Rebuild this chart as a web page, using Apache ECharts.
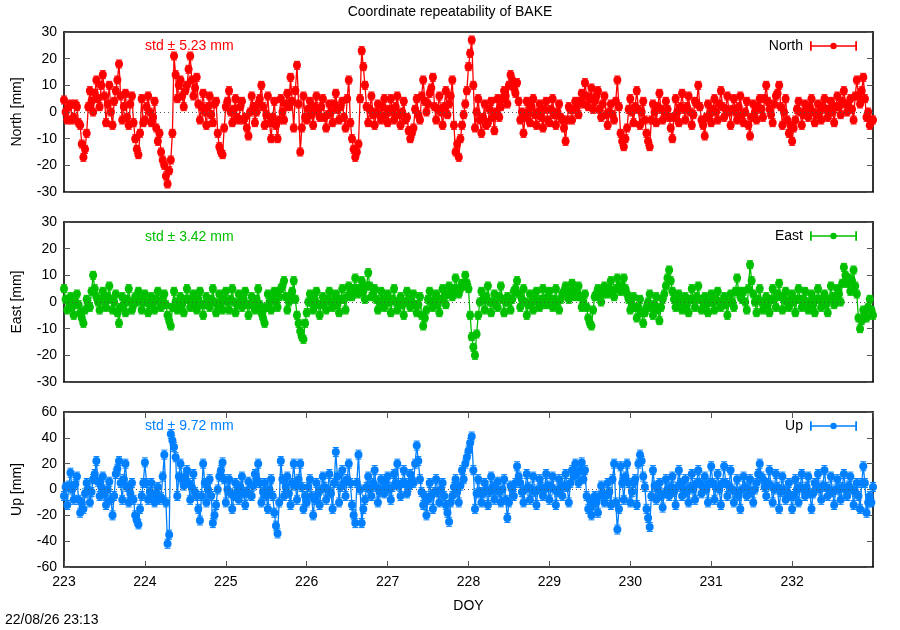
<!DOCTYPE html>
<html>
<head>
<meta charset="utf-8">
<script src="https://cdn.jsdelivr.net/npm/echarts@6/dist/echarts.min.js"></script>
<style>
html,body{margin:0;padding:0;background:#fff;}
#chart{width:900px;height:630px;}
</style>
</head>
<body>
<div id="chart"></div>
<script>
// ---- data ----
const EPOCH_START = 223;   // DOY of first epoch
const EPOCH_STEP = 0.02;   // days between epochs
const xTicks = [223, 224, 225, 226, 227, 228, 229, 230, 231, 232];
const nTicks = [-30, -20, -10, 0, 10, 20, 30];
const uTicks = [-60, -40, -20, 0, 20, 40, 60];
const stdLabels = ['std \u00b1 5.23 mm', 'std \u00b1 3.42 mm', 'std \u00b1 9.72 mm'];
const seriesNames = ['North', 'East', 'Up'];
const sigma = [1.5, 1.5, 3.5];   // error-bar half length (mm) per component

const north = [
  4.5,0,-3,2,3,-3,-2,3,2,-4,-5,-12,-17,-14,-8,2,8,4,0,7,12,5,2,10,14,6,-4,3,10,0,-5,4,8,12,18,6,-3,2,7,-2,-5,3,6,-4,-10,-14,-16,-8,5,-4,
  -3,2,6,0,-4,-2,4,-6,-11,-8,-15,-18,-20,-24,-27,-22,-18,-8,21,14,5,10,12,6,2,8,10,16,21,12,6,9,13,3,-3,2,7,0,-5,2,6,-1,-4,3,4,-8,-13,-15,-16,-6,
  2,4,8,0,-4,1,5,-2,-3,2,4,-3,-2,-6,-9,0,6,2,-4,0,3,5,10,2,-5,-1,6,-4,-10,-2,4,-5,-10,-3,5,0,-3,3,7,2,13,4,-6,8,17.5,3,-15,-6,6,-2,
  -3,1,4,-1,-5,2,6,0,-2,2,5,-2,-6,-1,3,0,-4,3,7,1,-3,2,4,-2,-6,5,12,-4,-10,-14,-17,-15,-12,5,23,17,10,2,-4,1,6,-1,-5,0,3,-1,-3,2,5,-1,
  -4,1,5,0,-3,2,6,-1,-5,0,4,-3,-2,-7,-10,-8,-6,1,5,-1,-3,6,12,4,0,3,7,9,13,2,-3,1,6,0,-5,2,8,-1,3,6,12,-5,-15,-12,-17,-10,-5,-1,3,8,
  17,22,27,10,-6,0,5,-3,-8,-2,3,-5,-4,1,4,-2,-7,0,5,-2,2,5,8,6,3,10,14,12,9,7,11,4,-3,0,-8,-2,4,0,-4,2,5,-1,-5,0,3,-2,-6,1,4,-3,
  -4,1,5,-1,-5,0,3,-2,-3,-6,-11,-3,2,1,-3,1,4,2,-1,4,7,3,11,6,2,5,9,1,4,6,8,1,-2,3,6,-1,-5,0,3,-1,-3,4,12,2,-8,-11,-13,-10,-6,1,
  5,0,-4,2,8,1,-5,0,4,-3,-8,-11,-13,-3,3,0,-4,2,7,1,-3,0,4,1,-2,-6,-10,-2,5,0,-4,2,7,1,-3,2,6,0,-5,-1,4,3,10,2,-3,-5,-9,-2,3,-1,
  -4,1,5,0,-3,3,8,2,-2,1,6,0,-5,1,5,0,-3,2,6,-1,-4,0,4,-5,-9,-2,3,0,-3,2,5,1,-2,5,10,4,1,-1,-4,3,6,7,10,2,-5,0,5,-3,-8,-5,
  -11,-6,-3,1,4,0,-5,-1,3,1,-2,2,5,0,-4,-1,3,0,-3,2,5,1,-2,1,4,0,-4,2,6,2,-1,4,8,3,0,2,5,1,-3,6,12,6,3,8,13,5,-2,0,-5,-3,
  -3
];
const east = [
  5,1,-3,0,2,-2,-5,0,3,-1,-4,-6,-8,-3,1,-1,-2,4,10,5,2,0,-3,1,4,0,-2,2,6,1,-3,0,3,-4,-8,-2,2,-1,-4,1,5,0,-3,-1,2,0,4,1,-3,0,
  3,0,-4,-1,2,0,-3,1,4,0,-2,1,3,-1,-5,-7,-9,-2,4,0,-3,-1,2,-1,-4,1,5,1,-2,0,3,-1,-3,1,4,-1,-5,-1,2,0,-2,1,5,0,-4,-1,3,0,-3,1,
  4,0,-3,1,5,0,-4,-1,3,0,-2,1,4,-1,-5,-1,2,0,-3,1,5,-1,-4,-6,-8,-2,3,0,-3,1,4,0,-2,2,5,6,8,2,-3,0,2,4,8,1,-5,-8,-11,-13,-14,-8,
  -4,0,3,0,-3,1,4,-1,-5,-1,2,0,-3,1,4,0,-2,1,3,-1,-4,1,5,1,-3,2,6,4,2,5,9,5,3,5,8,4,1,6,11,6,2,3,5,1,-3,0,4,1,-2,0,
  3,0,-4,1,5,0,-3,0,2,-1,-5,0,4,1,-2,0,3,-1,-4,-1,2,-5,-9,-6,-3,1,4,0,-2,1,3,-1,-4,1,5,2,-1,3,6,3,2,5,9,5,3,5,7,6,10,7,
  5,-5,-13,-17,-20,-12,-5,0,4,1,-3,2,6,0,-4,0,3,-1,-2,2,6,1,-4,0,2,0,-3,1,4,5,8,3,-2,1,5,0,-5,-1,3,0,-3,1,4,0,-2,1,5,1,-1,2,
  4,1,-2,1,5,0,-3,1,3,4,6,3,1,4,7,4,2,4,6,2,-2,0,3,-2,-6,-8,-9,-3,2,3,5,2,0,3,6,4,3,5,8,4,2,5,9,6,4,6,9,5,3,1,
  -3,-1,2,-2,-6,-2,1,-4,-8,-4,-2,0,3,-2,-5,-1,2,-3,-7,-2,1,3,6,9,12,8,4,1,-2,0,3,0,-3,0,2,-1,-4,1,5,1,-2,2,6,1,-3,0,2,-1,-4,0,
  3,0,-3,1,4,0,-2,0,2,-1,-5,0,3,0,-2,4,9,4,2,1,4,0,-3,5,14,8,3,0,-4,1,5,0,-3,0,2,-1,-4,1,5,1,-2,3,7,2,-3,1,4,0,-2,1,
  3,0,-4,1,5,1,-2,1,4,0,-3,0,3,-1,-4,1,5,1,-2,0,3,-1,-4,1,6,2,-1,2,5,3,0,7,13,10,7,9,4,8,12,6,3,-6,-10,-7,-3,-5,-6,-2,1,-3,
  -5
];
const up = [
  -5,2,-12,3,13,0,-8,4,10,-8,-18,-10,-15,-3,5,0,-10,-2,8,12,22,6,-5,2,10,-4,-12,0,6,-8,-20,-5,12,16,22,5,-8,8,20,2,-10,-3,5,-8,-20,-24,-27,-15,-5,5,
  21,5,-8,-2,5,-4,-10,-3,2,-8,-6,10,27,-10,-42,-35,43,38,33,25,-5,10,20,8,3,10,15,5,-8,2,12,-2,-5,-15,-24,-5,20,5,-10,0,8,-5,-26,-20,-12,0,10,15,21,8,
  -10,0,8,-3,-15,-5,5,-2,-8,2,10,-3,-12,-2,6,-4,-5,3,12,8,20,5,-10,-2,5,-5,-15,0,8,-5,-18,-28,-34,-10,22,8,-5,2,10,-3,-12,5,20,3,-8,8,20,2,-15,-5,
  -10,2,8,-5,-20,-8,5,-3,-12,0,10,2,-8,0,12,-3,-15,5,29,10,-10,2,15,5,-5,8,20,5,-12,-20,-26,5,27,0,-26,-15,-8,2,10,0,-5,5,15,2,-10,-2,8,0,-3,5,
  10,0,-8,2,12,5,20,3,-5,5,15,5,-3,2,12,8,5,20,34,22,8,-2,-12,-5,-20,-8,5,-5,-15,-2,8,-2,-10,0,5,-5,-12,-18,-25,-10,-5,2,8,-2,-10,3,15,8,20,25,
  30,36,41,15,-15,-3,8,-2,-10,-3,5,0,-12,-2,10,2,-8,0,6,-2,-10,0,8,-8,-22,-10,3,0,-5,5,18,10,5,-2,-10,0,12,2,-8,0,10,-2,-12,0,8,2,-5,0,12,3,
  -8,2,10,0,-12,-2,8,2,-5,3,12,2,-10,5,15,10,20,12,5,15,21,8,15,-5,-15,-8,-20,-12,-5,-10,-18,-5,3,-3,-10,-5,5,-2,-12,8,20,-10,-31,-15,18,5,-8,10,20,5,
  -10,-2,5,8,-12,20,27,22,10,2,-15,-22,-29,-5,15,3,-8,0,5,-5,-14,-3,8,0,-5,2,10,-2,-12,2,15,5,-5,0,8,-2,-10,2,12,0,-8,5,15,5,-3,2,10,0,-10,5,
  18,5,-8,2,12,0,-12,5,18,5,-5,3,15,0,-10,-2,8,-5,-15,0,10,2,-5,0,8,-2,-10,0,5,12,20,10,8,2,-5,5,15,3,-10,0,12,2,-15,-2,10,0,-8,-2,5,-5,
  -15,-5,8,0,-10,2,12,0,-5,2,10,-3,-15,-3,5,3,12,0,-8,3,15,2,-5,0,10,-2,-12,0,8,0,-8,2,12,0,-5,3,10,0,-12,-2,5,-5,-15,5,18,5,-18,-10,-5,-10,
  2
];

// ---- build ----
function pairs(vals) {
  return vals.map((v, i) => [EPOCH_START + i * EPOCH_STEP, v]);
}
function triples(vals, e) {
  return vals.map((v, i) => [EPOCH_START + i * EPOCH_STEP, v, e]);
}
const colors = ['#ff0000', '#00c000', '#0080ff'];
const FONT = 'Liberation Sans, Arial, sans-serif';
const grids = [
  {left: 64, right: 27, top: 32, height: 160},
  {left: 64, right: 27, top: 222, height: 160},
  {left: 64, right: 27, top: 412, height: 155}
];
const yRanges = [
  {min: nTicks[0], max: nTicks[nTicks.length - 1], interval: nTicks[1] - nTicks[0]},
  {min: nTicks[0], max: nTicks[nTicks.length - 1], interval: nTicks[1] - nTicks[0]},
  {min: uTicks[0], max: uTicks[uTicks.length - 1], interval: uTicks[1] - uTicks[0]}
];
const frameLine = {show: true, onZero: false, lineStyle: {color: '#000', width: 1.6}};
const xMin = xTicks[0], xMax = 233;

const xAxis = [], yAxis = [];
for (let g = 0; g < 3; g++) {
  const isBottom = g === 2;
  xAxis.push({
    type: 'value', gridIndex: g, position: 'bottom', min: xMin, max: xMax, interval: 1,
    axisLine: frameLine,
    axisTick: {show: isBottom, inside: true, length: 6, lineStyle: {color: '#555', width: 1}},
    axisLabel: {show: isBottom, color: '#000', fontSize: 14, fontFamily: FONT, margin: 8, showMaxLabel: false,
      formatter: v => String(v)},
    splitLine: {show: false},
    name: isBottom ? 'DOY' : '', nameLocation: 'middle', nameGap: 32,
    nameTextStyle: {color: '#000', fontSize: 14, fontFamily: FONT}
  });
  xAxis.push({
    type: 'value', gridIndex: g, position: 'top', min: xMin, max: xMax, interval: 1,
    axisLine: frameLine,
    axisTick: {show: isBottom, inside: true, length: 6, lineStyle: {color: '#555', width: 1}},
    axisLabel: {show: false}, splitLine: {show: false}
  });
  yAxis.push({
    type: 'value', gridIndex: g, position: 'left', min: yRanges[g].min, max: yRanges[g].max, interval: yRanges[g].interval,
    axisLine: frameLine,
    axisTick: {show: true, inside: true, length: 6, lineStyle: {color: '#555', width: 1}},
    axisLabel: {color: '#000', fontSize: 14, fontFamily: FONT, margin: 7},
    splitLine: {show: false},
    name: seriesNames[g] + ' [mm]', nameLocation: 'middle', nameRotate: 90, nameGap: 40,
    nameTextStyle: {color: '#000', fontSize: 14, fontFamily: FONT}
  });
  yAxis.push({
    type: 'value', gridIndex: g, position: 'right', min: yRanges[g].min, max: yRanges[g].max, interval: yRanges[g].interval,
    axisLine: frameLine,
    axisTick: {show: true, inside: true, length: 6, lineStyle: {color: '#555', width: 1}},
    axisLabel: {show: false}, splitLine: {show: false}
  });
}

const dataSets = [north, east, up];
const series = [];
const legendIcon = 'path://M0,1 L1.5,1 L1.5,9 L0,9 Z M38.5,1 L40,1 L40,9 L38.5,9 Z M1.5,4.3 L38.5,4.3 L38.5,5.7 L1.5,5.7 Z M17.3,5 A2.7,2.7 0 1 1 22.7,5 A2.7,2.7 0 1 1 17.3,5 Z';
const legends = [];
function errorBarRenderer(color) {
  return function (params, api) {
    const x = api.value(0), y = api.value(1), e = api.value(2);
    const hi = api.coord([x, y + e]);
    const lo = api.coord([x, y - e]);
    const w = 3;
    const st = {stroke: color, lineWidth: 1};
    return {
      type: 'group',
      children: [
        {type: 'line', shape: {x1: hi[0], y1: hi[1], x2: lo[0], y2: lo[1]}, style: st},
        {type: 'line', shape: {x1: hi[0] - w, y1: hi[1], x2: hi[0] + w, y2: hi[1]}, style: st},
        {type: 'line', shape: {x1: lo[0] - w, y1: lo[1], x2: lo[0] + w, y2: lo[1]}, style: st}
      ]
    };
  };
}
for (let g = 0; g < 3; g++) {
  series.push({
    name: seriesNames[g] + '0', type: 'line', xAxisIndex: 2 * g, yAxisIndex: 2 * g,
    data: [], z: 1, silent: true,
    markLine: {silent: true, symbol: 'none', label: {show: false}, animation: false,
      lineStyle: {color: '#555', type: [1, 3], width: 1}, data: [{yAxis: 0}]}
  });
  series.push({
    name: seriesNames[g] + 'err', type: 'custom', xAxisIndex: 2 * g, yAxisIndex: 2 * g,
    data: triples(dataSets[g], sigma[g]), z: 2, silent: true, animation: false,
    renderItem: errorBarRenderer(colors[g])
  });
  series.push({
    name: seriesNames[g], type: 'line', xAxisIndex: 2 * g, yAxisIndex: 2 * g,
    data: pairs(dataSets[g]), z: 3,
    showSymbol: true, showAllSymbol: true, symbol: 'circle', symbolSize: 8,
    itemStyle: {color: colors[g]},
    lineStyle: {color: colors[g], width: 1.3},
    animation: false
  });
  legends.push({
    data: [{name: seriesNames[g], icon: legendIcon}],
    right: 43, top: [39, 229, 419][g], padding: 0, align: 'right',
    itemWidth: 47, itemHeight: 10,
    textStyle: {color: '#000', fontSize: 14, fontFamily: FONT, padding: [0, 2, 0, 0]},
    selectedMode: false
  });
}

const graphic = [];
[48, 239, 428].forEach((y, g) => {
  graphic.push({type: 'text', left: 145, top: y - 9,
    style: {text: stdLabels[g], fill: colors[g], font: '14px ' + FONT}});
});
graphic.push({type: 'text', left: 5, top: 613,
  style: {text: '22/08/26 23:13', fill: '#000', font: '14px ' + FONT}});

const chart = echarts.init(document.getElementById('chart'), null, {renderer: 'canvas'});
chart.setOption({
  animation: false,
  backgroundColor: '#fff',
  title: {text: 'Coordinate repeatability of BAKE', left: 'center', top: 0,
    textStyle: {color: '#000', fontSize: 14, fontWeight: 'normal', fontFamily: FONT}},
  grid: grids,
  xAxis: xAxis,
  yAxis: yAxis,
  legend: legends,
  graphic: graphic,
  series: series
});
</script>
</body>
</html>
